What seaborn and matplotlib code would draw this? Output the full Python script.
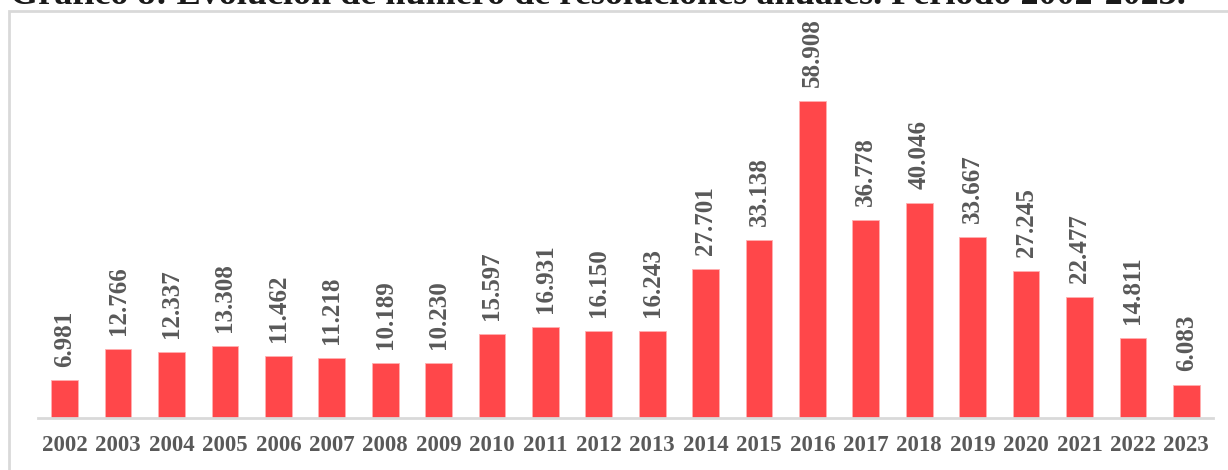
import pandas as pd
import matplotlib
matplotlib.use("Agg")
import matplotlib.pyplot as plt
import seaborn as sns
from matplotlib.patches import Rectangle

years = [str(y) for y in range(2002, 2024)]
resoluciones = [6981, 12766, 12337, 13308, 11462, 11218, 10189, 10230, 15597, 16931,
                16150, 16243, 27701, 33138, 58908, 36778, 40046, 33667, 27245, 22477,
                14811, 6083]
titulo = "Gráfico 8: Evolución de número de resoluciones anuales. Período 2002-2023."

sns.set_style("white")
plt.rcParams['font.family'] = ['Liberation Serif', 'DejaVu Serif']

df = pd.DataFrame({"anio": years, "valor": resoluciones})

W, H = 1228, 470
fig = plt.figure(figsize=(W / 100, H / 100), dpi=100)

# marco gris del gráfico
fig.patches.append(Rectangle((9 / W, -0.05), 1.2, (H - 11) / H + 0.05,
                             transform=fig.transFigure, fill=False,
                             edgecolor='#D9D9D9', linewidth=2, zorder=0))

ax = fig.add_axes([38 / W, 52 / H, (1213 - 38) / W, (418 - 11) / H])
sns.barplot(data=df, x="anio", y="valor", color="#FF474A", width=0.5,
            edgecolor="#FFB0B0", linewidth=0.6, saturation=1, ax=ax)

ax.set_xlim(-0.5, len(years) - 0.5)
ax.set_ylim(0, 58908 * 407 / 317)
ax.set_xlabel("")
ax.set_ylabel("")
ax.set_yticks([])
for s in ["top", "right", "left"]:
    ax.spines[s].set_visible(False)
ax.spines["bottom"].set_color("#D9D9D9")
ax.spines["bottom"].set_linewidth(2)
ax.tick_params(axis='x', length=0, pad=12, labelsize=16.5, labelcolor='#595959')
for lbl in ax.get_xticklabels():
    lbl.set_fontweight('bold')

for i, v in enumerate(resoluciones):
    ax.annotate(f"{v:,}".replace(",", "."), (i, v), xytext=(0, 10),
                textcoords="offset points", rotation=90, ha='center', va='bottom',
                fontsize=18, fontweight='bold', color='#595959')

fig.text(10 / W, 1 - 4 / H, titulo, ha='left', va='baseline',
         fontsize=26, fontweight='bold', color='#1A1A1A')

fig.savefig("out.png", dpi=100)
